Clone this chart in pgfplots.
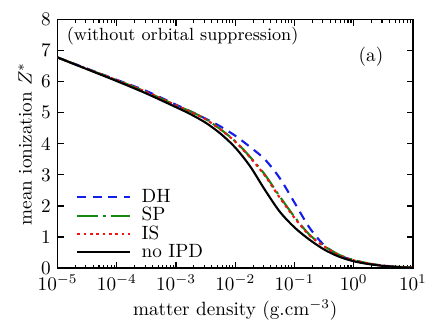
\documentclass[border=0pt]{standalone}
\usepackage{pgfplots}
\usepackage{pgfplotstable}
\pgfplotsset{compat=1.18}

\definecolor{gpblue}{RGB}{20,30,235}
\definecolor{gpgreen}{RGB}{20,135,20}
\definecolor{gpred}{RGB}{240,20,20}

% Z*, quarter-decade steps in the steep part
\pgfplotstableread{
x        noipd  dh    sp    is
1e-5     6.78   6.78  6.78  6.78
3.162e-5 6.40   6.42  6.41  6.41
1e-4     6.02   6.06  6.05  6.05
3.162e-4 5.62   5.70  5.67  5.67
1e-3     5.18   5.26  5.24  5.24
1.778e-3 4.95   5.04  5.04  5.03
3.162e-3 4.68   4.81  4.80  4.79
5.623e-3 4.33   4.56  4.47  4.46
1e-2     3.88   4.26  4.08  4.07
1.778e-2 3.28   3.90  3.58  3.56
3.162e-2 2.52   3.50  3.01  2.98
5.623e-2 1.82   2.90  2.31  2.27
0.1      1.31   2.11  1.65  1.62
0.1778   0.92   1.31  1.08  1.06
0.3162   0.60   0.74  0.71  0.70
0.5623   0.37   0.42  0.43  0.42
1        0.22   0.25  0.26  0.25
1.778    0.13   0.14  0.15  0.15
3.162    0.07   0.08  0.08  0.08
5.623    0.03   0.04  0.04  0.04
10       0.01   0.01  0.02  0.02
}\zdata

\begin{document}
\begin{tikzpicture}
\begin{axis}[
  name=ax,
  scale only axis,
  width=185pt, height=129.4pt,
  xmode=log, xmin=1e-5, xmax=10,
  ymin=0, ymax=8, ytick={0,1,...,8},
  xtick={1e-5,1e-4,1e-3,1e-2,1e-1,1,10},
  tick align=inside,
  major tick length=3.2pt, minor tick length=1.7pt,
  every tick/.style={black, line width=0.6pt},
  axis line style={line width=0.7pt},
  xlabel={matter density (g.cm$^{-3}$)},
  ylabel={mean ionization $Z^{*}$},
  xlabel style={yshift=2pt},
  ylabel style={yshift=-2pt},
  legend cell align=left,
  legend style={draw=none, fill=none, at={(0.035,0.0)}, anchor=south west,
    row sep=-3pt, font=\normalsize},
  legend image code/.code={\draw[#1] (0pt,0pt) -- (27.5pt,0pt); \path (31pt,0pt);},
]
\addplot[gpblue, line width=1.1pt, dash pattern=on 4.7pt off 3.4pt, smooth] table[x=x, y=dh] {\zdata};
\addlegendentry{DH}
\addplot[gpgreen, line width=1.1pt, dash pattern=on 11pt off 2.6pt on 1.4pt off 2.6pt, smooth] table[x=x, y=sp] {\zdata};
\addlegendentry{SP}
\addplot[gpred, line width=1.1pt, dash pattern=on 1.5pt off 1.8pt, smooth] table[x=x, y=is] {\zdata};
\addlegendentry{IS}
\addplot[black, line width=1.1pt, smooth] table[x=x, y=noipd] {\zdata};
\addlegendentry{no IPD}
\node[anchor=west, inner sep=0pt, font=\fontsize{9.2}{11}\selectfont] at (rel axis cs:0.025,0.934) {(without orbital suppression)};
\node[inner sep=0pt] at (rel axis cs:0.882,0.849) {(a)};
\end{axis}
\path[use as bounding box] ([shift={(-30pt,-30.7pt)}]ax.south west) rectangle ([shift={(11.5pt,10.2pt)}]ax.north east);
\end{tikzpicture}
\end{document}
